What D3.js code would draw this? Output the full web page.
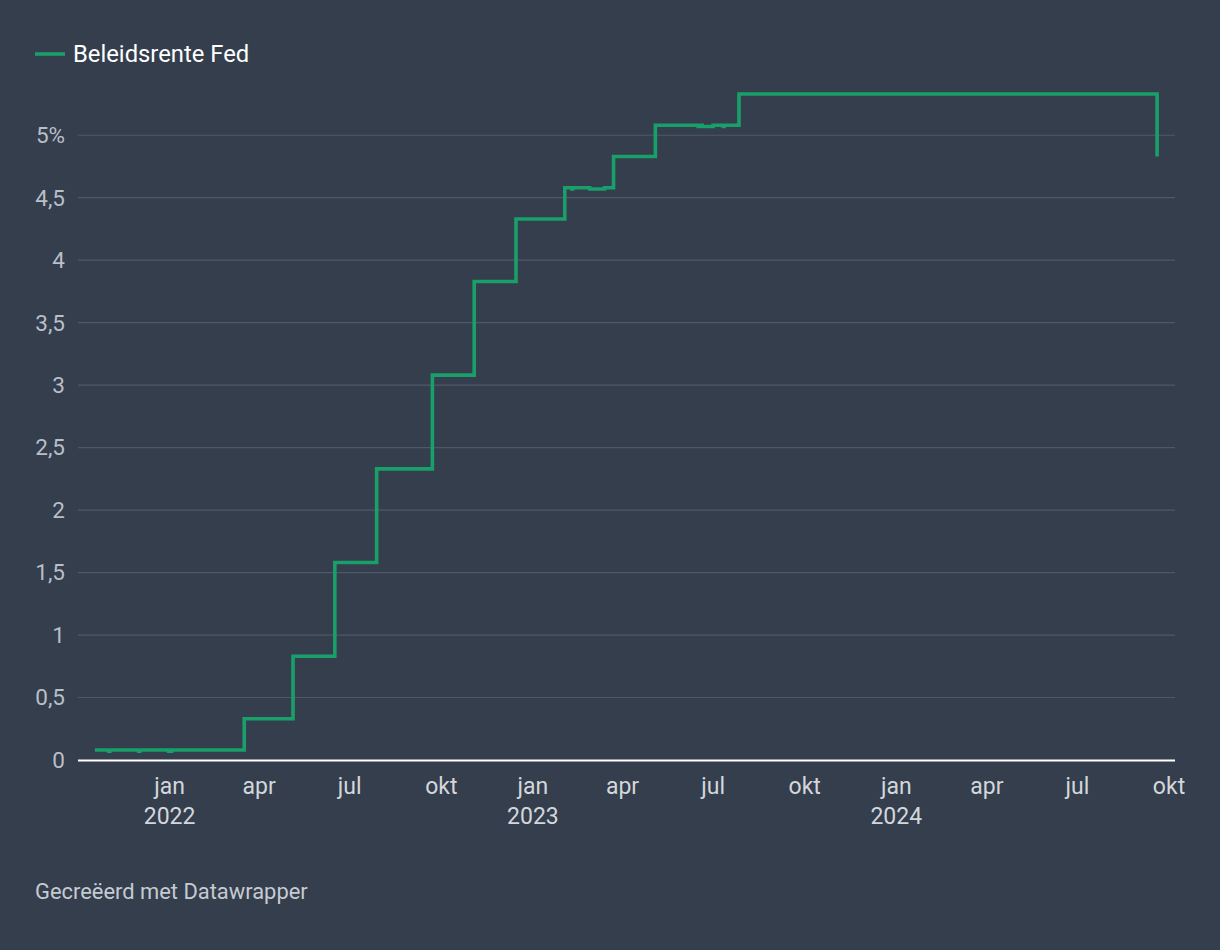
<!DOCTYPE html>
<html>
<head>
<meta charset="utf-8">
<script src="https://cdn.jsdelivr.net/npm/d3@7"></script>
<style>
  html, body { margin: 0; padding: 0; background: #343e4d; }
  svg { display: block; font-family: Roboto, "Noto Sans", sans-serif; }
</style>
</head>
<body>
<svg id="chart" width="1220" height="950"></svg>
<script>
// Effective Fed funds rate, change points (value holds until next date)
const rateDates = ["2021-10-18","2021-11-01","2021-11-02","2021-12-01","2021-12-02","2021-12-31","2022-01-03",
  "2022-03-17","2022-05-05","2022-06-16","2022-07-28","2022-09-22","2022-11-03","2022-12-15",
  "2023-02-02","2023-02-09","2023-02-10","2023-02-27","2023-03-14","2023-03-23",
  "2023-05-04","2023-06-16","2023-06-17","2023-06-20","2023-07-01","2023-07-11","2023-07-12",
  "2023-07-27","2024-09-18","2024-09-19"];
const rateValues = [0.08,0.07,0.08,0.07,0.08,0.07,0.08,
  0.33,0.83,1.58,2.33,3.08,3.83,4.33,
  4.58,4.57,4.58,4.57,4.58,4.83,
  5.08,5.07,5.08,5.07,5.08,5.07,5.08,
  5.33,5.33,4.83];
const seriesName = "Beleidsrente Fed";
const yTicks = [0,0.5,1,1.5,2,2.5,3,3.5,4,4.5,5];
const yTickLabels = ["0","0,5","1","1,5","2","2,5","3","3,5","4","4,5","5%"];
const xTickDates = ["2022-01-01","2022-04-01","2022-07-01","2022-10-01","2023-01-01","2023-04-01","2023-07-01","2023-10-01","2024-01-01","2024-04-01","2024-07-01","2024-10-01"];
const xTickMonths = ["jan","apr","jul","okt","jan","apr","jul","okt","jan","apr","jul","okt"];
const xTickYears = ["2022","","","","2023","","","","2024","","",""];
const footer = "Gecreëerd met Datawrapper";

(function () {
const parse = d3.utcParse("%Y-%m-%d");
const data = rateDates.map((d, i) => ({ date: parse(d), value: rateValues[i] }));

const svg = d3.select("#chart");
const pLeft = 78, pRight = 1175, pTop = 94, pBottom = 760;

const x = d3.scaleUtc().domain([parse("2021-10-01"), parse("2024-10-07")]).range([pLeft, pRight]);
const y = d3.scaleLinear().domain([0, 5.33]).range([pBottom, pTop]);

// gridlines + y labels
const yAxis = svg.append("g");
yAxis.selectAll("line").data(yTicks.filter(t => t > 0)).join("line")
  .attr("x1", pLeft).attr("x2", pRight)
  .attr("y1", d => y(d)).attr("y2", d => y(d))
  .attr("stroke", "#4f5866").attr("stroke-width", 1.2);
yAxis.selectAll("text").data(yTicks).join("text")
  .attr("x", 65).attr("y", d => y(d)).attr("dy", "0.35em")
  .attr("text-anchor", "end")
  .attr("fill", "#b9bfc7").attr("font-size", 22.5)
  .text((d, i) => yTickLabels[i]);

// x labels
const xg = svg.append("g");
xTickDates.forEach((d, i) => {
  const px = x(parse(d));
  xg.append("text").attr("x", px).attr("y", 794).attr("text-anchor", "middle")
    .attr("fill", "#d3d7dc").attr("font-size", 23).text(xTickMonths[i]);
  if (xTickYears[i]) {
    xg.append("text").attr("x", px).attr("y", 824).attr("text-anchor", "middle")
      .attr("fill", "#d3d7dc").attr("font-size", 23).text(xTickYears[i]);
  }
});

// line
const line = d3.line().x(d => x(d.date)).y(d => y(d.value)).curve(d3.curveStepAfter);
svg.append("path").datum(data)
  .attr("d", line)
  .attr("fill", "none")
  .attr("stroke", "#199f69")
  .attr("stroke-width", 3.6)
  .attr("stroke-linejoin", "miter");

// baseline
svg.append("line").attr("x1", pLeft).attr("x2", pRight)
  .attr("y1", y(0) + 0.5).attr("y2", y(0) + 0.5)
  .attr("stroke", "#ffffff").attr("stroke-width", 2);

// legend
svg.append("line").attr("x1", 35).attr("x2", 65).attr("y1", 54).attr("y2", 54)
  .attr("stroke", "#199f69").attr("stroke-width", 3.6);
svg.append("text").attr("x", 73).attr("y", 54).attr("dy", "0.35em")
  .attr("fill", "#ffffff").attr("font-size", 23.8).text(seriesName);

// footer
svg.append("text").attr("x", 35).attr("y", 899)
  .attr("fill", "#c6cbd1").attr("font-size", 21.9).text(footer);
})();
</script>
</body>
</html>
